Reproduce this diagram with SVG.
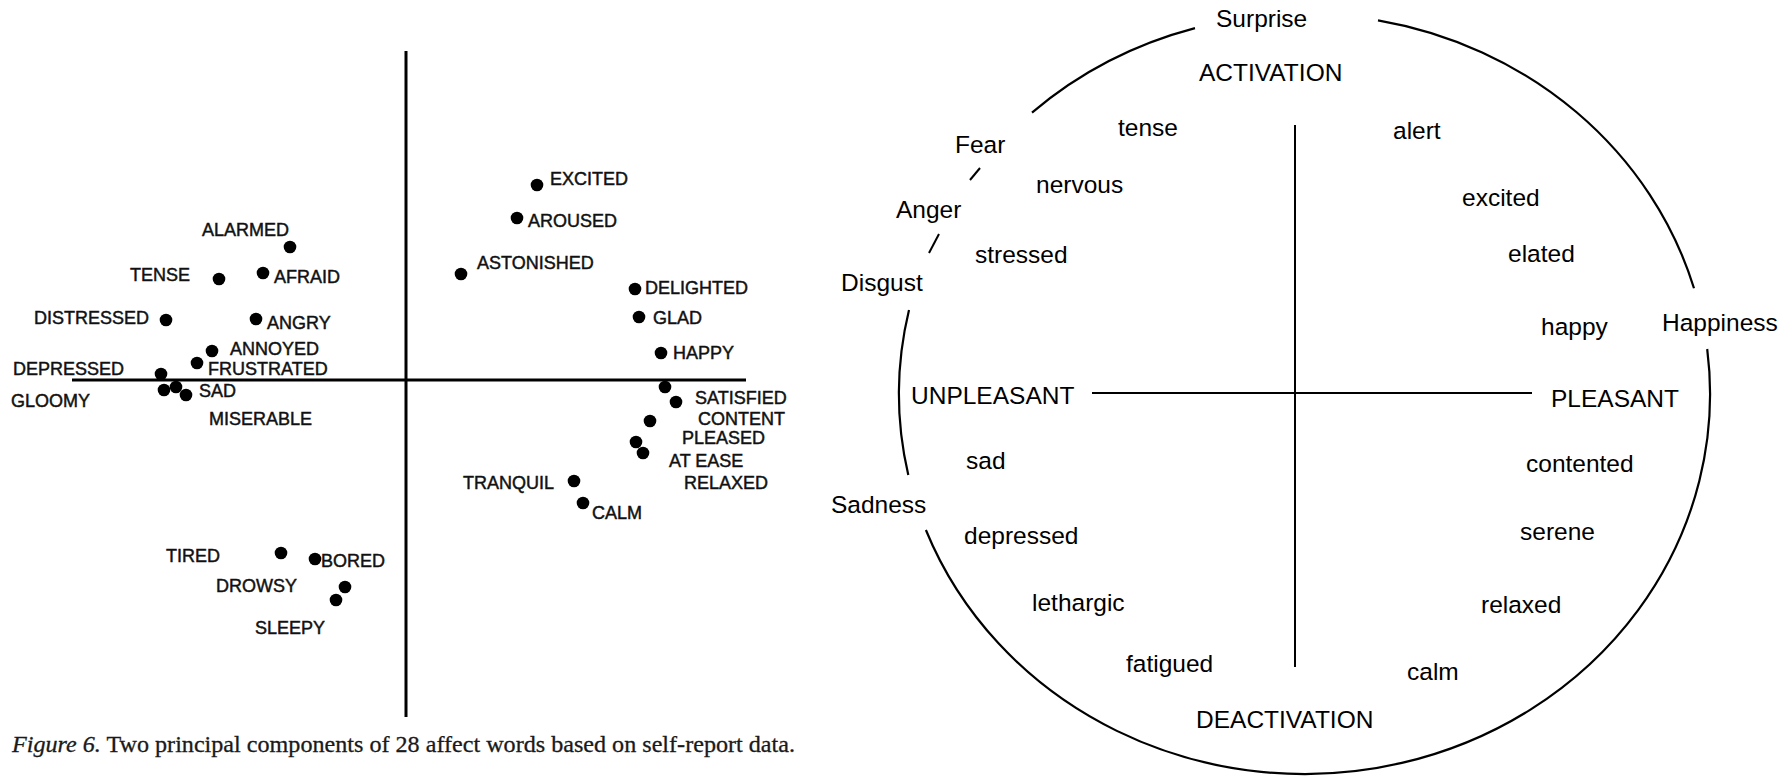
<svg xmlns="http://www.w3.org/2000/svg" width="1791" height="781" viewBox="0 0 1791 781">
<style>
.bg{fill:#fff}
.ax{stroke:#000;stroke-width:3;fill:none}
.dot{fill:#000}
.lw{font-family:"Liberation Sans",Arial,sans-serif;font-size:18px;fill:#111;stroke:#111;stroke-width:0.45}
.cap{font-family:"Liberation Serif","Times New Roman",serif;font-size:23px;fill:#1a1a1a;stroke:#1a1a1a;stroke-width:0.3}
.rw{font-family:"Liberation Sans",Arial,sans-serif;font-size:24.5px;fill:#000}
.arc{stroke:#000;stroke-width:2.2;fill:none}
.ax2{stroke:#000;stroke-width:2;fill:none}
</style>
<rect class="bg" x="0" y="0" width="1791" height="781"/>

<g id="left-panel">
  <g id="left-axes">
    <line class="ax" x1="406" y1="51" x2="406" y2="717"/>
    <line class="ax" x1="72" y1="380" x2="746" y2="380"/>
  </g>
  <g id="left-dots">
    <circle class="dot" cx="537" cy="185" r="6.3"/>
    <circle class="dot" cx="517" cy="218" r="6.3"/>
    <circle class="dot" cx="461" cy="274" r="6.3"/>
    <circle class="dot" cx="290" cy="247" r="6.3"/>
    <circle class="dot" cx="219" cy="279" r="6.3"/>
    <circle class="dot" cx="263" cy="273" r="6.3"/>
    <circle class="dot" cx="166" cy="320" r="6.3"/>
    <circle class="dot" cx="256" cy="319" r="6.3"/>
    <circle class="dot" cx="212" cy="351" r="6.3"/>
    <circle class="dot" cx="197" cy="363" r="6.3"/>
    <circle class="dot" cx="161" cy="374" r="6.3"/>
    <circle class="dot" cx="164" cy="390" r="6.3"/>
    <circle class="dot" cx="176" cy="387" r="6.3"/>
    <circle class="dot" cx="186" cy="395" r="6.3"/>
    <circle class="dot" cx="635" cy="289" r="6.3"/>
    <circle class="dot" cx="639" cy="317" r="6.3"/>
    <circle class="dot" cx="661" cy="353" r="6.3"/>
    <circle class="dot" cx="665" cy="387" r="6.3"/>
    <circle class="dot" cx="676" cy="402" r="6.3"/>
    <circle class="dot" cx="650" cy="421" r="6.3"/>
    <circle class="dot" cx="636" cy="442" r="6.3"/>
    <circle class="dot" cx="643" cy="453" r="6.3"/>
    <circle class="dot" cx="574" cy="481" r="6.3"/>
    <circle class="dot" cx="583" cy="503" r="6.3"/>
    <circle class="dot" cx="281" cy="553" r="6.3"/>
    <circle class="dot" cx="315" cy="559" r="6.3"/>
    <circle class="dot" cx="345" cy="587" r="6.3"/>
    <circle class="dot" cx="336" cy="600" r="6.3"/>
  </g>
  <g id="left-labels">
    <text class="lw" x="550" y="184.5">EXCITED</text>
    <text class="lw" x="528" y="226.5">AROUSED</text>
    <text class="lw" x="477" y="268.5">ASTONISHED</text>
    <text class="lw" x="202" y="235.5">ALARMED</text>
    <text class="lw" x="130" y="280.5">TENSE</text>
    <text class="lw" x="274" y="282.5">AFRAID</text>
    <text class="lw" x="34" y="323.5">DISTRESSED</text>
    <text class="lw" x="267" y="328.5">ANGRY</text>
    <text class="lw" x="230" y="354.5">ANNOYED</text>
    <text class="lw" x="208" y="374.5">FRUSTRATED</text>
    <text class="lw" x="13" y="374.5">DEPRESSED</text>
    <text class="lw" x="11" y="406.5">GLOOMY</text>
    <text class="lw" x="199" y="396.5">SAD</text>
    <text class="lw" x="209" y="424.5">MISERABLE</text>
    <text class="lw" x="645" y="293.5">DELIGHTED</text>
    <text class="lw" x="653" y="323.5">GLAD</text>
    <text class="lw" x="673" y="358.5">HAPPY</text>
    <text class="lw" x="695" y="403.5">SATISFIED</text>
    <text class="lw" x="698" y="424.5">CONTENT</text>
    <text class="lw" x="682" y="443.5">PLEASED</text>
    <text class="lw" x="669" y="466.5">AT EASE</text>
    <text class="lw" x="684" y="488.5">RELAXED</text>
    <text class="lw" x="463" y="488.5">TRANQUIL</text>
    <text class="lw" x="592" y="518.5">CALM</text>
    <text class="lw" x="166" y="561.5">TIRED</text>
    <text class="lw" x="321" y="566.5">BORED</text>
    <text class="lw" x="216" y="591.5">DROWSY</text>
    <text class="lw" x="255" y="633.5">SLEEPY</text>
  </g>
  <g id="caption">
    <text class="cap" x="12" y="752" textLength="783" lengthAdjust="spacingAndGlyphs"><tspan font-style="italic">Figure 6.</tspan> Two principal components of 28 affect words based on self-report data.</text>
  </g>
</g>

<g id="right-panel">
  <g id="circumplex-connectors">
    <path class="arc" d="M1032,112.6 A405.5,380 0 0,1 1195,28.1"/>
    <path class="arc" d="M1378,20.3 A405.5,380 0 0,1 1694,288.3"/>
    <path class="arc" d="M909,310 A405.5,380 0 0,0 908.3,475"/>
    <path class="arc" d="M1707.2,349 A405.5,380 0 0,1 925.9,530"/>
    <line class="ax2" x1="970" y1="180" x2="980" y2="168"/>
    <line class="ax2" x1="929" y1="253" x2="939" y2="234"/>
    <line class="ax2" x1="1295" y1="125" x2="1295" y2="667"/>
    <line class="ax2" x1="1092" y1="393" x2="1532" y2="393"/>
  </g>
  <g id="emotion-labels">
    <text class="rw" x="1216" y="27">Surprise</text>
    <text class="rw" x="955" y="153">Fear</text>
    <text class="rw" x="896" y="218">Anger</text>
    <text class="rw" x="841" y="291">Disgust</text>
    <text class="rw" x="831" y="512.5">Sadness</text>
    <text class="rw" x="1662" y="330.5">Happiness</text>
  </g>
  <g id="axis-labels">
    <text class="rw" x="1199" y="81">ACTIVATION</text>
    <text class="rw" x="1196" y="728">DEACTIVATION</text>
    <text class="rw" x="911" y="403.5">UNPLEASANT</text>
    <text class="rw" x="1551" y="406.5">PLEASANT</text>
  </g>
  <g id="affect-labels">
    <text class="rw" x="1118" y="136">tense</text>
    <text class="rw" x="1036" y="192.5">nervous</text>
    <text class="rw" x="975" y="263">stressed</text>
    <text class="rw" x="966" y="468.5">sad</text>
    <text class="rw" x="964" y="544">depressed</text>
    <text class="rw" x="1032" y="610.5">lethargic</text>
    <text class="rw" x="1126" y="671.5">fatigued</text>
    <text class="rw" x="1393" y="138.5">alert</text>
    <text class="rw" x="1462" y="205.5">excited</text>
    <text class="rw" x="1508" y="261.5">elated</text>
    <text class="rw" x="1541" y="335">happy</text>
    <text class="rw" x="1526" y="471.5">contented</text>
    <text class="rw" x="1520" y="539.5">serene</text>
    <text class="rw" x="1481" y="613">relaxed</text>
    <text class="rw" x="1407" y="680">calm</text>
  </g>
</g>
</svg>
